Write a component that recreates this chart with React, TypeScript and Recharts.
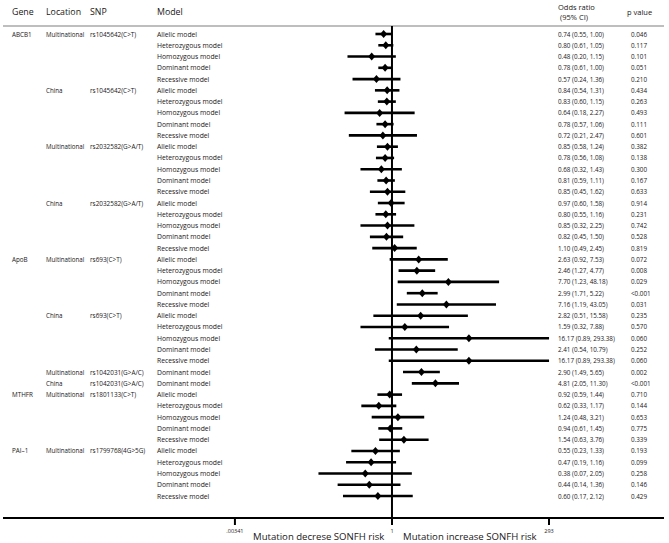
import { ScatterChart, Scatter, XAxis, YAxis, ErrorBar, ReferenceLine, Customized } from "recharts";

// one entry per row, top to bottom
const genes = ["ABCB1", "", "", "", "", "", "", "", "", "", "", "", "", "", "", "", "", "", "", "",
  "ApoB", "", "", "", "", "", "", "", "", "", "", "", "MTHFR", "", "", "", "", "PAI\u20131", "", "", "", ""];
const locations = ["Multinational", "", "", "", "", "China", "", "", "", "", "Multinational", "", "", "", "", "China", "", "", "", "",
  "Multinational", "", "", "", "", "China", "", "", "", "", "Multinational", "China", "Multinational", "", "", "", "", "Multinational", "", "", "", ""];
const snps = ["rs1045642(C>T)", "", "", "", "", "rs1045642(C>T)", "", "", "", "", "rs2032582(G>A/T)", "", "", "", "", "rs2032582(G>A/T)", "", "", "", "",
  "rs693(C>T)", "", "", "", "", "rs693(C>T)", "", "", "", "", "rs1042031(G>A/C)", "rs1042031(G>A/C)", "rs1801133(C>T)", "", "", "", "", "rs1799768(4G>5G)", "", "", "", ""];
const fiveModels = ["Allelic model", "Heterozygous model", "Homozygous model", "Dominant model", "Recessive model"];
const models = [...fiveModels, ...fiveModels, ...fiveModels, ...fiveModels, ...fiveModels, ...fiveModels,
  "Dominant model", "Dominant model", ...fiveModels, ...fiveModels];

const oddsRatio = [0.74, 0.80, 0.48, 0.78, 0.57, 0.84, 0.83, 0.64, 0.78, 0.72,
  0.85, 0.78, 0.68, 0.81, 0.85, 0.97, 0.80, 0.85, 0.82, 1.10,
  2.63, 2.46, 7.70, 2.99, 7.16, 2.82, 1.59, 16.17, 2.41, 16.17,
  2.90, 4.81, 0.92, 0.62, 1.24, 0.94, 1.54, 0.55, 0.47, 0.38, 0.44, 0.60];
const ciLow = [0.55, 0.61, 0.20, 0.61, 0.24, 0.54, 0.60, 0.18, 0.57, 0.21,
  0.58, 0.56, 0.32, 0.59, 0.45, 0.60, 0.55, 0.32, 0.45, 0.49,
  0.92, 1.27, 1.23, 1.71, 1.19, 0.51, 0.32, 0.89, 0.54, 0.89,
  1.49, 2.05, 0.59, 0.33, 0.48, 0.61, 0.63, 0.23, 0.19, 0.07, 0.14, 0.17];
const ciHigh = [1.00, 1.05, 1.15, 1.00, 1.36, 1.31, 1.15, 2.27, 1.06, 2.47,
  1.24, 1.08, 1.43, 1.11, 1.62, 1.58, 1.16, 2.25, 1.50, 2.45,
  7.53, 4.77, 48.18, 5.22, 43.05, 15.58, 7.88, 293.38, 10.79, 293.38,
  5.65, 11.30, 1.44, 1.17, 3.21, 1.45, 3.76, 1.33, 1.16, 2.05, 1.36, 2.12];
const pValues = ["0.046", "0.117", "0.101", "0.051", "0.210", "0.434", "0.263", "0.493", "0.111", "0.601",
  "0.382", "0.138", "0.300", "0.167", "0.633", "0.914", "0.231", "0.742", "0.528", "0.819",
  "0.072", "0.008", "0.029", "<0.001", "0.031", "0.235", "0.570", "0.060", "0.252", "0.060",
  "0.002", "<0.001", "0.710", "0.144", "0.653", "0.775", "0.339", "0.193", "0.099", "0.258", "0.146", "0.429"];

const xTicks = [0.00341, 1, 293];
const xTickLabels = [".00341", "1", "293"];

const W = 669;
const H = 543;
const FONT = "'Open Sans', sans-serif";
const INK = "#1a1718";
const X_MIN = 7.75e-7;
const X_MAX = 1.877e4;
const Y_MIN = -0.71;
const Y_MAX = 42.95;

const rows = oddsRatio.map((v, i) => ({
  row: i,
  or: v,
  err: [v - ciLow[i], ciHigh[i] - v],
}));

// diamond marker; the row's table text is hung off the same y position
function RowMark({ cx, cy, payload }: any) {
  const i = payload.row;
  const t = { fontSize: 6.8, fontFamily: FONT, fill: INK, dominantBaseline: "central" } as any;
  return (
    <g>
      <polygon points={`${cx - 3.5},${cy} ${cx},${cy - 4} ${cx + 3.5},${cy} ${cx},${cy + 4}`} fill="#000" />
      <text x={12} y={cy} {...t} fontSize={6.3}>{genes[i]}</text>
      <text x={46} y={cy} {...t} fontSize={6.2}>{locations[i]}</text>
      <text x={90} y={cy} {...t} fontSize={6.4}>{snps[i]}</text>
      <text x={157} y={cy} {...t}>{models[i]}</text>
      <text x={558} y={cy} {...t} fontSize={6.3}>
        {`${oddsRatio[i].toFixed(2)} (${ciLow[i].toFixed(2)}, ${ciHigh[i].toFixed(2)})`}
      </text>
      <text x={631} y={cy} {...t} fontSize={6.3}>{pValues[i]}</text>
    </g>
  );
}

function AxisTick({ x, y, payload }: any) {
  const k = xTicks.indexOf(payload.value);
  return (
    <text x={x} y={y + 4} textAnchor="middle" dominantBaseline="central" fontSize={5.5} fontFamily={FONT} fill={INK}>
      {xTickLabels[k]}
    </text>
  );
}

function Labels() {
  const h = { fontSize: 8.8, fontFamily: FONT, fill: INK } as any;
  const r = { fontSize: 7.5, fontFamily: FONT, fill: INK } as any;
  const b = { fontSize: 9.6, fontFamily: FONT, fill: INK, dominantBaseline: "central" } as any;
  return (
    <g>
      <text x={12} y={15} {...h}>Gene</text>
      <text x={46} y={15} {...h}>Location</text>
      <text x={90} y={15} {...h}>SNP</text>
      <text x={157} y={15} {...h}>Model</text>
      <text x={558} y={10} {...r}>Odds ratio</text>
      <text x={560} y={20} {...r}>(95% CI)</text>
      <text x={627} y={14.5} {...r}>p value</text>
      <text x={253} y={536} {...b}>Mutation decrese SONFH risk</text>
      <text x={403} y={536} {...b}>Mutation increase SONFH risk</text>
    </g>
  );
}

export default function App() {
  return (
    <div style={{ position: "absolute", left: 0, top: 0, width: W, height: H, background: "#fff" }}>
      <ScatterChart width={W} height={H} margin={{ top: 26, right: 5, bottom: 0, left: 3 }}>
        <XAxis
          type="number"
          dataKey="or"
          scale="log"
          domain={[X_MIN, X_MAX]}
          allowDataOverflow
          ticks={xTicks}
          interval={0}
          height={25}
          axisLine={{ stroke: "#000", strokeWidth: 2 }}
          tickLine={{ stroke: "#000", strokeWidth: 2 }}
          tickSize={7}
          tickMargin={2}
          tick={<AxisTick />}
        />
        <YAxis type="number" dataKey="row" reversed domain={[Y_MIN, Y_MAX]} allowDataOverflow width={0} hide />
        <ReferenceLine y={Y_MIN} stroke="#a8a8a8" strokeWidth={1.5} />
        <ReferenceLine x={1} stroke="#000" strokeWidth={2} />
        <Scatter data={rows} shape={<RowMark />} isAnimationActive={false}>
          <ErrorBar dataKey="err" direction="x" width={0} stroke="#000" strokeWidth={2.6} />
        </Scatter>
        <Customized component={<Labels />} />
      </ScatterChart>
    </div>
  );
}
